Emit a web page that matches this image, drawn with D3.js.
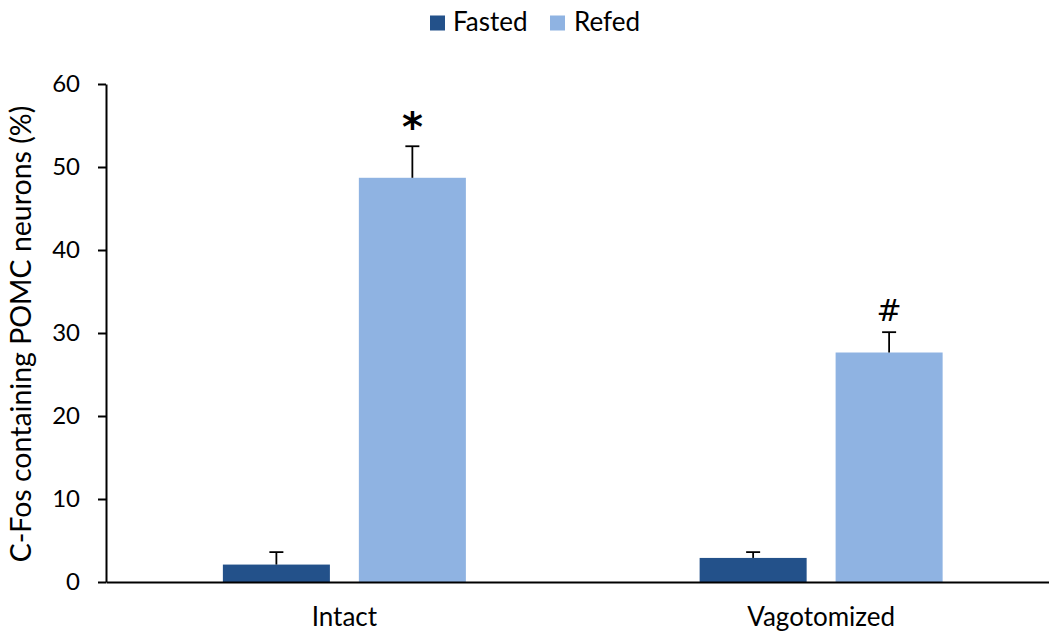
<!DOCTYPE html>
<html><head><meta charset="utf-8">
<script src="https://cdn.jsdelivr.net/npm/d3@7"></script>
<style>body{margin:0;background:#fff;} svg{display:block;} text{font-family:Lato,"Noto Sans",sans-serif;fill:#000;}</style>
</head><body>
<svg id="c" width="1049" height="632"></svg>
<script>
const categories = ["Intact", "Vagotomized"];
const seriesNames = ["Fasted", "Refed"];
const fastedValues = [2.1, 2.9];
const fastedErrors = [1.5, 0.7];
const refedValues = [48.7, 27.65];
const refedErrors = [3.8, 2.45];
const fastedMarkers = [null, null];
const refedMarkers = ["*", "#"];
const yTicks = [0, 10, 20, 30, 40, 50, 60];
const colors = ["#23518A", "#8FB3E2"];

(function () {
const svg = d3.select("#c");
const pLeft = 106, pRight = 1059.5, pTop = 84, pBottom = 582;
const x0 = d3.scaleBand().domain(categories).range([pLeft, pRight]).padding(0);
const y = d3.scaleLinear().domain([0, 60]).range([pBottom, pTop]);
const x1 = d3.scaleBand().domain(seriesNames).paddingInner(0.213).paddingOuter(0);

const series = [
  {name: "Fasted", values: fastedValues, errors: fastedErrors, marks: fastedMarkers},
  {name: "Refed", values: refedValues, errors: refedErrors, marks: refedMarkers}
];

categories.forEach((cat, i) => {
  const c = x0(cat) + x0.bandwidth() / 2;
  x1.range([c - 121.5, c + 121.5]);
  series.forEach((s, j) => {
    const bx = x1(s.name), bw = x1.bandwidth();
    const v = s.values[i], e = s.errors[i];
    svg.append("rect").attr("x", bx).attr("y", y(v)).attr("width", bw)
      .attr("height", y(0) - y(v)).attr("fill", colors[j]);
    const cx = bx + bw / 2;
    svg.append("line").attr("x1", cx).attr("x2", cx).attr("y1", y(v)).attr("y2", y(v + e))
      .attr("stroke", "#000").attr("stroke-width", 1.8);
    svg.append("line").attr("x1", cx - 7).attr("x2", cx + 7).attr("y1", y(v + e)).attr("y2", y(v + e))
      .attr("stroke", "#000").attr("stroke-width", 1.8);
    if (s.marks[i]) {
      const m = s.marks[i];
      svg.append("text").attr("x", cx).attr("y", y(v + e) - (m === "*" ? 5.5 : 11))
        .attr("text-anchor", "middle")
        .style("font-size", m === "*" ? "40px" : "30px")
        .style("font-family", "'DejaVu Sans',sans-serif")
        .style("font-weight", m === "*" ? "bold" : "normal")
        .text(m);
    }
  });
});

const yAxis = d3.axisLeft(y).tickValues(yTicks).tickSize(8).tickPadding(18).tickSizeOuter(0);
const gy = svg.append("g").attr("transform", `translate(${pLeft},0)`).call(yAxis);
gy.select(".domain").attr("stroke", "#000").attr("stroke-width", 2);
gy.selectAll(".tick line").attr("stroke", "#000").attr("stroke-width", 2);
gy.selectAll(".tick text").style("font-size", "24px").style("font-family", "Lato,sans-serif").attr("fill", "#000");

const xAxis = d3.axisBottom(x0).tickSize(0).tickPadding(26).tickSizeOuter(0);
const gx = svg.append("g").attr("transform", `translate(0,${pBottom})`).call(xAxis);
gx.select(".domain").attr("stroke", "#000").attr("stroke-width", 2);
gx.selectAll(".tick text").style("font-size", "26px").style("font-family", "Lato,sans-serif").attr("fill", "#000");

svg.append("text").attr("transform", "translate(31,334) rotate(-90)")
  .attr("text-anchor", "middle").style("font-size", "28.5px")
  .text("C-Fos containing POMC neurons (%)");

const legend = [{n: "Fasted", x: 430, tx: 453}, {n: "Refed", x: 550, tx: 574}];
legend.forEach((l, i) => {
  svg.append("rect").attr("x", l.x).attr("y", 15.5).attr("width", 15).attr("height", 15).attr("fill", colors[i]);
  svg.append("text").attr("x", l.tx).attr("y", 31).style("font-size", "26px").text(l.n);
});
})();
</script>
</body></html>
